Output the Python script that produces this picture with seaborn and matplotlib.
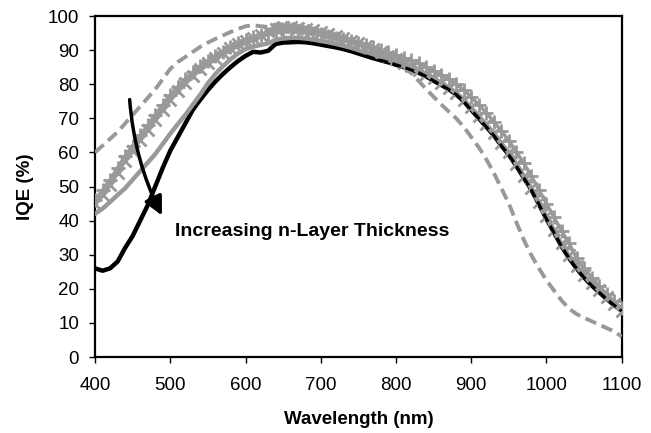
import matplotlib
matplotlib.use("Agg")
import matplotlib.pyplot as plt
import seaborn as sns

# wavelength grid (nm), read every 10 nm
wavelength = list(range(400, 1101, 10))

# black solid curve
black_solid = [26, 25.3, 26, 28, 32, 35.5, 40, 44.5, 50, 55.5, 60.5, 64.5, 68.5, 72.5, 75.5, 78.3,
               80.8, 83, 85, 86.8, 88.3, 89.5, 89.3, 89.8, 91.8, 92.2, 92.3, 92.4, 92.3, 92, 91.6,
               91.2, 90.8, 90.3, 89.7, 89, 88.3, 87.6, 87, 86.4, 85.7, 85, 84.2, 83.4, 82.3, 81,
               79.8, 78.5, 77, 75, 72.5, 70, 67.5, 65, 62, 59.3, 56, 52.5, 49, 44.8, 40.5, 36.5,
               32.5, 29, 26, 23.3, 21, 19, 17, 15.2, 13.5]

# black dashed curve (only distinguishable at long wavelengths)
wavelength_dash = list(range(760, 1101, 10))
black_dashed = [88.3, 87.6, 87, 86.4, 85.7, 85, 84.2, 83.4, 82.3, 81, 79.8, 78.5, 77, 75, 72.5, 70,
                67.5, 65, 62, 59.3, 56, 52.5, 49, 44.8, 40.5, 36.5, 32.5, 29, 26, 23.3, 21, 19, 17,
                15.2, 13.5]

# gray solid curve
gray_solid = [42, 43.5, 45.5, 47.5, 49.5, 52, 54.5, 57, 59.5, 62.5, 65.5, 68.3, 71, 74, 77, 80.3,
              83, 85.3, 87.3, 89, 90.3, 91, 91.5, 92, 93, 93.5, 93.6, 93.6, 93.4, 93.1, 92.7, 92.3,
              91.8, 91.3, 90.7, 90, 89.3, 88.6, 87.9, 87.1, 86.3, 85.5, 84.7, 83.8, 82.8, 81.5,
              80.3, 79, 77.5, 75.5, 73, 70.5, 68, 65.5, 62.5, 59.8, 56.5, 53, 49.5, 45.3, 41, 37,
              33, 29.5, 26.5, 23.8, 21.5, 19.5, 17.5, 15.5, 13.5]

# gray curve with "+" markers
gray_plus = [46, 49, 52, 55.5, 59, 62, 65, 68, 71, 74, 76.8, 79.3, 81.5, 83.5, 85.3, 86.8, 88.2,
             89.5, 90.8, 92, 93, 93.8, 94.3, 94.8, 95.3, 95.8, 95.8, 95.6, 95.3, 95, 94.6, 94.2,
             93.7, 93.2, 92.6, 92, 91.4, 90.8, 90.1, 89.4, 88.6, 87.8, 87, 86.1, 85.1, 84, 82.8,
             81.5, 80, 78.3, 76.3, 74, 71.6, 69, 66.3, 63.4, 60.2, 56.8, 53, 49, 45, 41, 37, 33.3,
             29, 26, 23.3, 20.8, 18.5, 16.3, 14.3]

# gray curve with "x" markers
gray_x = [45, 47.5, 50.5, 54, 57.5, 60.5, 63.5, 66.5, 69.5, 72.5, 75.3, 78, 80.3, 82.5, 84.5, 86.2,
          87.8, 89.2, 90.5, 91.7, 92.8, 93.5, 94.3, 95.5, 96.3, 96.7, 96.7, 96.5, 96.2, 95.8, 95.3,
          94.8, 94.2, 93.5, 92.8, 92, 91.2, 90.3, 89.4, 88.4, 87.4, 86.3, 85.2, 84.1, 83, 81.7,
          80.4, 79, 77.4, 75.5, 73.2, 70.8, 68.3, 65.7, 62.8, 60, 56.7, 53.2, 49.6, 45.5, 41.3,
          37.3, 33.3, 29.8, 26.8, 24.1, 21.8, 19.7, 17.6, 15.5, 13.5]

# gray dashed curve
gray_dashed = [60, 62, 64, 66, 68.5, 71, 73.5, 76, 78.5, 81.5, 84.5, 86.5, 88, 89.5, 91, 92.2, 93.3,
               94.3, 95.3, 96.2, 97, 97.3, 97, 96.8, 97.5, 97.5, 97.3, 97, 96.6, 96.1, 95.6, 95,
               94.4, 93.7, 93, 92.2, 91.3, 90.4, 89.4, 88.1, 86.6, 85, 83.3, 81, 78.6, 76.3, 74.1,
               72, 70, 67.5, 64.5, 61.5, 58, 54, 49.5, 45, 39.5, 34.3, 29.8, 26, 22.5, 19.5, 16.6,
               14.2, 12.6, 11.5, 10.5, 9.5, 8.5, 7.5, 6]

x_ticks = list(range(400, 1101, 100))
y_ticks = list(range(0, 101, 10))

GRAY = "#999999"

sns.set_style("ticks")
plt.rcParams["font.family"] = ["Liberation Sans", "DejaVu Sans"]
plt.rcParams["text.color"] = "black"
plt.rcParams["axes.labelcolor"] = "black"

fig = plt.figure(figsize=(6.51, 4.33), dpi=100)
ax = fig.add_axes([0.146, 0.1755, 0.809, 0.7875])

sns.lineplot(x=wavelength, y=black_solid, ax=ax, color="black", linewidth=3.2, zorder=2)
sns.lineplot(x=wavelength, y=gray_dashed, ax=ax, color=GRAY, linewidth=2.8, linestyle=(0, (3, 1.5)),
             zorder=3)
sns.lineplot(x=wavelength, y=gray_solid, ax=ax, color=GRAY, linewidth=3.2, zorder=3)
sns.lineplot(x=wavelength, y=gray_x, ax=ax, color=GRAY, linewidth=2.5, marker="x", markersize=8,
             markeredgewidth=2, markeredgecolor=GRAY, zorder=4)
sns.lineplot(x=wavelength, y=gray_plus, ax=ax, color=GRAY, linewidth=2.5, marker="+", markersize=10,
             markeredgewidth=2, markeredgecolor=GRAY, zorder=4)
sns.lineplot(x=wavelength_dash, y=black_dashed, ax=ax, color="black", linewidth=2.2,
             linestyle=(0, (3, 1.5)), zorder=5)

ax.set_xlim(400, 1100)
ax.set_ylim(0, 100)
ax.set_xticks(x_ticks)
ax.set_yticks(y_ticks)
ax.tick_params(axis="both", direction="out", length=4.5, width=1, labelsize=13.5,
               colors="black")
ax.tick_params(axis="x", pad=10)
ax.tick_params(axis="y", pad=7)
for side in ["top", "right", "left", "bottom"]:
    ax.spines[side].set_visible(True)
    ax.spines[side].set_linewidth(1.6)
    ax.spines[side].set_color("black")

ax.set_xlabel("Wavelength (nm)", fontsize=13.5, fontweight="bold", labelpad=12)
ax.set_ylabel("IQE (%)", fontsize=13.5, fontweight="bold", labelpad=10)

# curved arrow showing the trend
ax.annotate("", xy=(489, 41.5), xytext=(446, 75.5),
            arrowprops=dict(arrowstyle="-|>", color="black", lw=2.5, mutation_scale=28,
                            connectionstyle="arc3,rad=0.1", shrinkA=0, shrinkB=0),
            zorder=6)
ax.text(506, 35.5, "Increasing n-Layer Thickness", fontsize=14, fontweight="bold",
        ha="left", va="baseline", zorder=6)

fig.savefig("out.png", dpi=100)
plt.close(fig)
